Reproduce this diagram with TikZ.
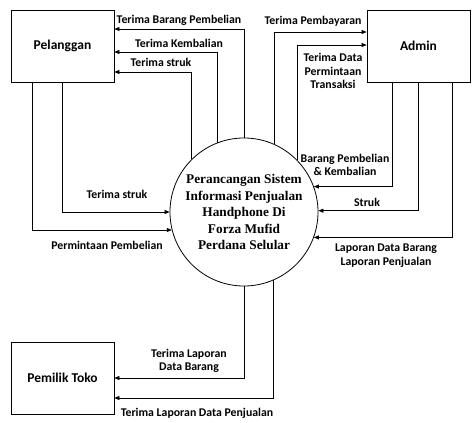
\documentclass[tikz,border=0pt]{standalone}
\usepackage{fontspec}
\setmainfont{Liberation Serif}
\newfontfamily\lblfont{Carlito}
\usepackage{tikz}
\usetikzlibrary{arrows.meta,positioning}

\begin{document}
\begin{tikzpicture}[
  x=1pt, y=-1pt,
  >={Triangle[length=5pt,width=4pt]},
  entity/.style={draw,line width=0.8pt,minimum width=103pt,minimum height=72pt,
    font=\lblfont\bfseries\fontsize{13.5}{15}\selectfont},
  process/.style={draw,circle,line width=0.8pt,minimum size=148pt,inner sep=0pt,align=center,
    font=\bfseries\fontsize{13.3}{16.5}\selectfont},
  flow/.style={->,line width=0.75pt},
  lbl/.style={font=\lblfont\bfseries\fontsize{11.8}{13.5}\selectfont,align=center,inner sep=0pt}
]
\useasboundingbox (0,0) rectangle (474,423);

% external entities and the process
\node[entity] (pel) at (62.5,46) {Pelanggan};
\node[entity] (adm) at (418.5,46) {Admin};
\node[entity] (pem) at (62.5,378) {Pemilik Toko};
\node[process] (sys) at (244,212)
  {Perancangan Sistem\\Informasi Penjualan\\Handphone Di\\Forza Mufid\\Perdana Selular};

% process -> Pelanggan
\draw[flow] (sys.90) |- ([yshift=17pt]pel.east);
\draw[flow] (sys.111.4) |- ([yshift=-6pt]pel.east);
\draw[flow] (sys.135.7) |- ([yshift=-26pt]pel.east);
\node[lbl] at (179,20) {Terima Barang Pembelian};
\node[lbl] at (179,43) {Terima Kembalian};
\node[lbl] at (161,62) {Terima struk};

% Pelanggan -> process
\draw[flow] (pel.south) |- (sys.180);
\draw[flow] ([xshift=-30pt]pel.south) |- (sys.194.9);
\node[lbl] at (117,194) {Terima struk};
\node[lbl] at (107,245) {Permintaan Pembelian};

% process -> Admin
\draw[flow] (sys.66.9) |- ([yshift=14pt]adm.west);
\draw[flow] (sys.44.3) |- ([yshift=1pt]adm.west);
\node[lbl] at (313,21) {Terima Pembayaran};
\node[lbl] at (333,71) {Terima Data\\Permintaan\\Transaksi};

% Admin -> process
\draw[flow] ([xshift=-26.5pt]adm.south) |- (sys.20.6);
\draw[flow] (adm.south) |- (sys.1);
\draw[flow] ([xshift=33.5pt]adm.south) |- (sys.-20.6);
\node[lbl] at (345,165) {Barang Pembelian\\\& Kembalian};
\node[lbl] at (367,202) {Struk};
\node[lbl] at (386,255.5) {Laporan Data Barang\\Laporan Penjualan};

% process -> Pemilik Toko
\draw[flow] (sys.270) |- (pem.east);
\draw[flow] (sys.293.9) |- ([yshift=-20pt]pem.east);
\node[lbl] at (189,361) {Terima Laporan\\Data Barang};
\node[lbl] at (197,413) {Terima Laporan Data Penjualan};
\end{tikzpicture}
\end{document}
